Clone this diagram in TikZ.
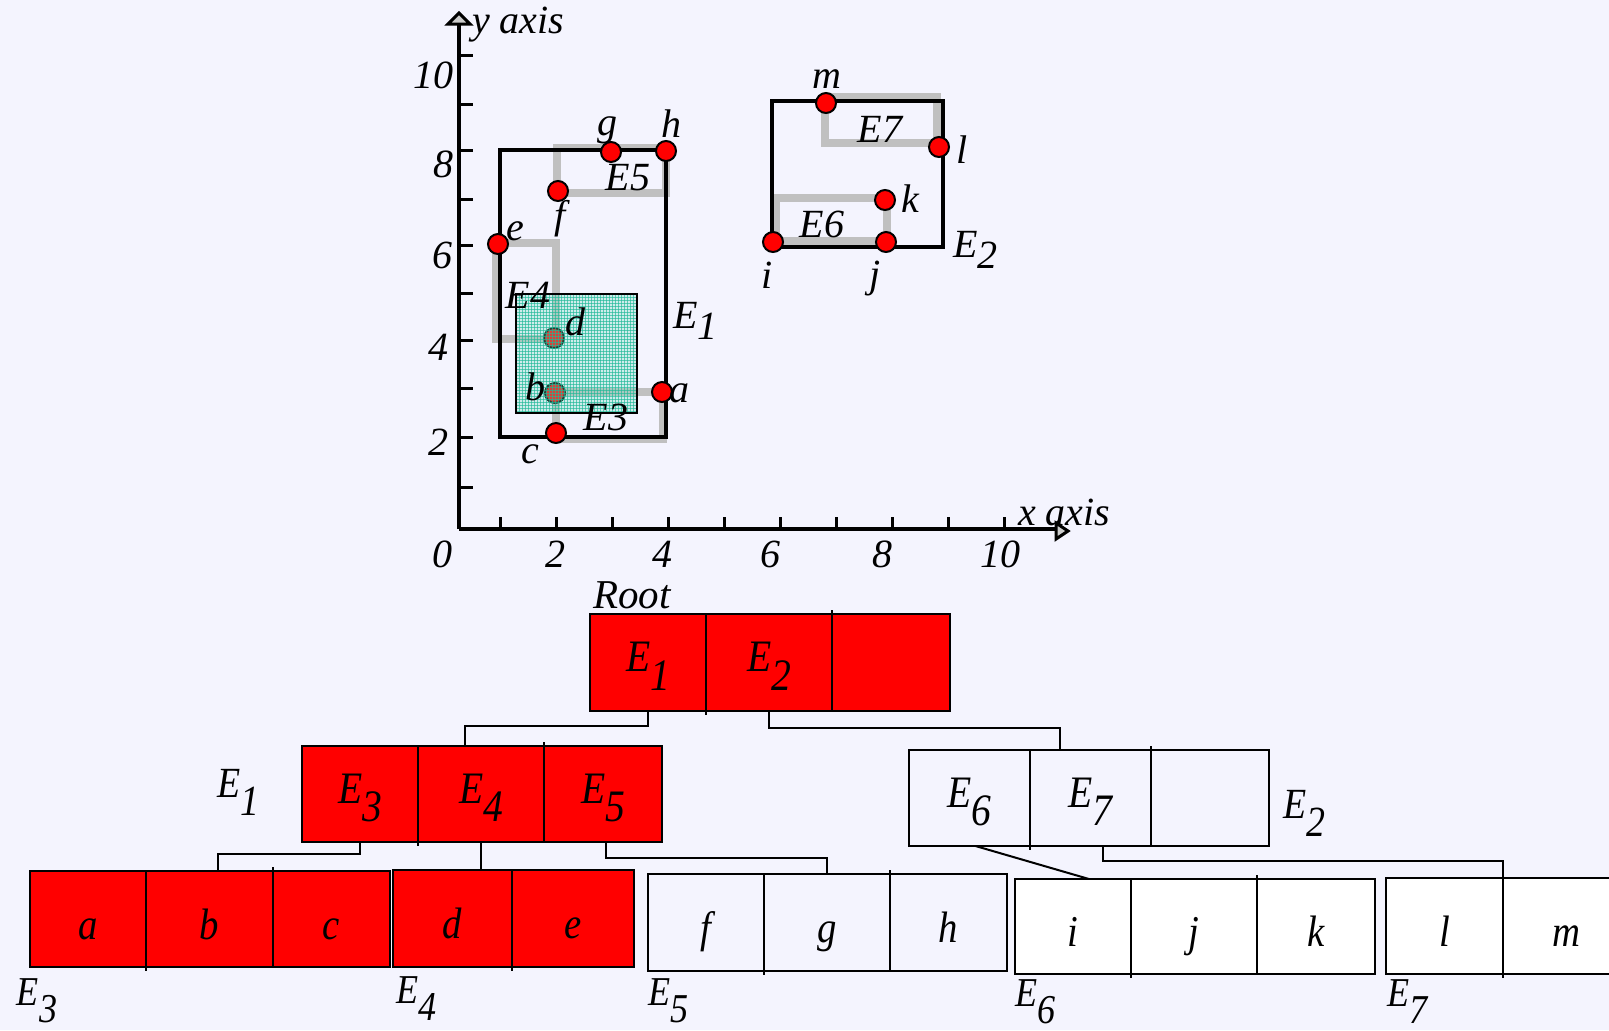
\documentclass[tikz,border=0pt]{standalone}
\usepackage{fontspec}
\setmainfont{Liberation Serif}[ItalicFont={Liberation Serif Italic}]
\newfontfamily\treefont[FakeStretch=0.88]{Liberation Serif}[ItalicFont={Liberation Serif Italic}]
\usetikzlibrary{arrows.meta}
\definecolor{bg}{RGB}{244,244,254}
\definecolor{mbr}{RGB}{192,192,192}
\definecolor{tealf}{RGB}{120,220,195}
\definecolor{tealg}{RGB}{30,185,150}
\newcommand\tsub[1]{\raisebox{-0.42em}{#1}}
\newcommand\psub[1]{\raisebox{-0.28em}{#1}}
\begin{document}
\begin{tikzpicture}[x=0.5pt,y=-0.5pt,
  every node/.style={inner sep=0pt, outer sep=0pt, font=\fontsize{20}{24}\selectfont\itshape},
  ptxt/.style={anchor=base, font=\fontsize{20}{24}\selectfont\itshape},
  dot/.style={circle, draw=black, line width=1pt, fill=red, minimum size=10pt},
  mbrline/.style={draw=mbr, line width=4pt},
  erect/.style={draw=black, line width=2pt},
  axisline/.style={line width=1.6pt},
  axistip/.style={draw=black, fill=gray!40, line width=1.5pt, line join=miter},
  tickline/.style={line width=1.5pt},
  cell/.style={draw=black, line width=0.8pt, rectangle, font=\treefont\fontsize{22.5}{26}\selectfont\itshape, text height=19pt, text depth=10pt},
  leaf/.style={draw=black, line width=0.8pt, rectangle, font=\treefont\fontsize{22}{26}\selectfont\itshape, text height=20pt, text depth=0pt},
  hot/.style={fill=red},
  wht/.style={fill=white},
  boxline/.style={draw=black, line width=1.4pt},
  divl/.style={line width=0.8pt},
  conn/.style={draw=black, line width=1pt},
  tlab/.style={anchor=base west, font=\treefont\fontsize{21.5}{25}\selectfont\itshape},
]
\useasboundingbox (0,0) rectangle (1609,1030);
\clip (0,0) rectangle (1609,1030);
\fill[bg] (0,0) rectangle (1609,1030);

% ---------- plot: MBR outlines (gray) ----------
\draw[mbrline] (556,392) rectangle (663,439);
\draw[mbrline] (496,243) rectangle (556,339);
\draw[mbrline] (557,148) rectangle (666,193);
\draw[mbrline] (776,198) rectangle (887,241);
\draw[mbrline] (825,97) rectangle (937,143);

% ---------- black rectangles E1, E2 ----------
\draw[erect] (500,150) rectangle (666,437);
\draw[erect] (772,101) rectangle (943,247);

% ---------- axes ----------
\coordinate (org) at (459,529);
\coordinate (ytip) at (459,13);
\coordinate (xtip) at (1068,531);
\draw[axisline] (org) -- (459,24);
\draw[axisline] (org) -- (1057,529);
\draw[axistip] (ytip) -- ++(-11,11) -- ++(22,0) -- cycle;
\draw[axistip] (xtip) -- ++(-12,-8) -- ++(0,16) -- cycle;
\foreach \yy in {55,104,150,199,245,293,340,388,437,487}
  \draw[tickline] (459,\yy) -- (473,\yy);
\foreach \xx in {500,556,612,668,724,780,836,892,948,1004}
  \draw[tickline] (\xx,529) -- (\xx,517);

% ---------- points ----------
\node[dot] (pa) at (662,392) {};
\node[dot] (pb) at (555,393) {};
\node[dot] (pc) at (556,433) {};
\node[dot] (pd) at (554,338) {};
\node[dot] (pe) at (498,244) {};
\node[dot] (pf) at (558,191) {};
\node[dot] (pg) at (611,152) {};
\node[dot] (ph) at (666,151) {};
\node[dot] (pi) at (773,242) {};
\node[dot] (pj) at (886,242) {};
\node[dot] (pk) at (885,200) {};
\node[dot] (pl) at (939,147) {};
\node[dot] (pm) at (826,103) {};

% ---------- hatched rectangle ----------
\fill[tealf, fill opacity=0.3] (516,294) rectangle (637,413);
\foreach \i in {0,...,40}
  \draw[tealg, line width=0.35pt, draw opacity=0.65] ({516+3*\i},294) -- ({516+3*\i},413);
\foreach \j in {0,...,39}
  \draw[tealg, line width=0.35pt, draw opacity=0.65] (516,{294+3*\j}) -- (637,{294+3*\j});
\draw[black, line width=1pt] (516,294) rectangle (637,413);

% ---------- plot labels ----------
\node[ptxt, anchor=base west] (tya) at (472,33) {y axis};
\node[ptxt, anchor=base west] (txa) at (1018,525) {x axis};
\node[ptxt] (tx0) at (442,567) {0};
\node[ptxt] (tx2) at (555,567) {2};
\node[ptxt] (tx4) at (662,567) {4};
\node[ptxt] (tx6) at (770,567) {6};
\node[ptxt] (tx8) at (882,567) {8};
\node[ptxt] (tx10) at (1000,567) {10};
\node[ptxt, anchor=base east] (ty10) at (453,88) {10};
\node[ptxt, anchor=base east] (ty8) at (453,177) {8};
\node[ptxt, anchor=base east] (ty6) at (452,268) {6};
\node[ptxt, anchor=base east] (ty4) at (448,360) {4};
\node[ptxt, anchor=base east] (ty2) at (448,455) {2};
\node[ptxt] (tg) at (607,135) {g};
\node[ptxt] (th) at (671,137) {h};
\node[ptxt] (tf) at (560,228) {f};
\node[ptxt] (te) at (515,240) {e};
\node[ptxt] (td) at (575,335) {d};
\node[ptxt] (tb) at (535,400) {b};
\node[ptxt] (ta) at (679,402) {a};
\node[ptxt] (tc) at (530,463) {c};
\node[ptxt] (tm) at (827,88) {m};
\node[ptxt] (tl) at (962,163) {l};
\node[ptxt] (tk) at (910,212) {k};
\node[ptxt] (ti) at (767,288) {i};
\node[ptxt] (tj) at (875,287) {j};
\node[ptxt] (tE5) at (628,190) {E5};
\node[ptxt] (tE4) at (528,308) {E4};
\node[ptxt] (tE3) at (606,430) {E3};
\node[ptxt] (tE7) at (880,142) {E7};
\node[ptxt] (tE6) at (822,237) {E6};
\node[ptxt, anchor=base west] (tE1) at (673,328) {E\psub{1}};
\node[ptxt, anchor=base west] (tE2) at (953,257) {E\psub{2}};

% ---------- tree: root ----------
\node[cell, hot, minimum width=58pt, minimum height=48.5pt] (r1) at (648,662.5) {E\tsub{1}};
\node[cell, hot, minimum width=63pt, minimum height=48.5pt] (r2) at (769,662.5) {E\tsub{2}};
\node[cell, hot, minimum width=59pt, minimum height=48.5pt] (r3) at (891,662.5) {};
\draw[boxline] (r1.north west) rectangle (r3.south east);
\draw[divl] (r1.south east) -- ++(0,4);
\draw[divl] (r2.north east) -- ++(0,-4);
\node[tlab, font=\fontsize{20.5}{24}\selectfont\itshape] (troot) at (593,608) {Root};

% ---------- tree: E1 node ----------
\node[cell, hot, minimum width=58pt, minimum height=48pt] (n11) at (360,794) {E\tsub{3}};
\node[cell, hot, minimum width=63pt, minimum height=48pt] (n12) at (481,794) {E\tsub{4}};
\node[cell, hot, minimum width=59pt, minimum height=48pt] (n13) at (603,794) {E\tsub{5}};
\draw[boxline] (n11.north west) rectangle (n13.south east);
\draw[divl] (n11.south east) -- ++(0,4);
\draw[divl] (n12.north east) -- ++(0,-4);
\node[tlab] (tn1) at (217,797) {E\tsub{1}};

% ---------- tree: E2 node ----------
\node[cell, minimum width=60.5pt, minimum height=48pt] (n21) at (969.5,798) {E\tsub{6}};
\node[cell, minimum width=60.5pt, minimum height=48pt] (n22) at (1090.5,798) {E\tsub{7}};
\node[cell, minimum width=59pt, minimum height=48pt] (n23) at (1210,798) {};
\draw[boxline] (n21.north west) rectangle (n23.south east);
\draw[divl] (n21.south east) -- ++(0,4);
\draw[divl] (n22.north east) -- ++(0,-4);
\node[tlab] (tn2) at (1283,818) {E\tsub{2}};

% ---------- tree: leaves ----------
\node[leaf, hot, minimum width=58pt, minimum height=48pt] (la) at (88,919) {a};
\node[leaf, hot, minimum width=63.5pt, minimum height=48pt] (lb) at (209.5,919) {b};
\node[leaf, hot, minimum width=58.5pt, minimum height=48pt] (lc) at (331.5,919) {c};
\draw[boxline] (la.north west) rectangle (lc.south east);
\draw[divl] (la.south east) -- ++(0,4);
\draw[divl] (lb.north east) -- ++(0,-4);

\node[leaf, hot, minimum width=59.5pt, minimum height=48.5pt] (ld) at (452.5,918.5) {d};
\node[leaf, hot, minimum width=61pt, minimum height=48.5pt] (le) at (573,918.5) {e};
\draw[boxline] (ld.north west) rectangle (le.south east);
\draw[divl] (ld.south east) -- ++(0,4);

\node[leaf, minimum width=58pt, minimum height=48.5pt] (lf) at (706,922.5) {f};
\node[leaf, minimum width=63pt, minimum height=48.5pt] (lg) at (827,922.5) {g};
\node[leaf, minimum width=58.5pt, minimum height=48.5pt] (lh) at (948.5,922.5) {h};
\draw[boxline] (lf.north west) rectangle (lh.south east);
\draw[divl] (lf.south east) -- ++(0,4);
\draw[divl] (lg.north east) -- ++(0,-4);

\node[leaf, wht, minimum width=58pt, minimum height=47.5pt] (li) at (1073,926.5) {i};
\node[leaf, wht, minimum width=63pt, minimum height=47.5pt] (lj) at (1194,926.5) {j};
\node[leaf, wht, minimum width=59pt, minimum height=47.5pt] (lk) at (1316,926.5) {k};
\draw[boxline] (li.north west) rectangle (lk.south east);
\draw[divl] (li.south east) -- ++(0,4);
\draw[divl] (lj.north east) -- ++(0,-4);

\node[leaf, wht, minimum width=58.5pt, minimum height=48pt] (ll) at (1444.5,926) {l};
\node[leaf, wht, minimum width=63.5pt, minimum height=48pt] (lm) at (1566.5,926) {m};
\draw[boxline] (ll.north west) rectangle (lm.south east);
\draw[divl] (ll.south east) -- ++(0,4);

\node[tlab, font=\treefont\fontsize{20.5}{24}\selectfont\itshape] (tl3) at (17,1005) {E\tsub{3}};
\node[tlab, font=\treefont\fontsize{20.5}{24}\selectfont\itshape] (tl4) at (396,1003) {E\tsub{4}};
\node[tlab, font=\treefont\fontsize{20.5}{24}\selectfont\itshape] (tl5) at (648,1005) {E\tsub{5}};
\node[tlab, font=\treefont\fontsize{20.5}{24}\selectfont\itshape] (tl6) at (1015,1006) {E\tsub{6}};
\node[tlab, font=\treefont\fontsize{20.5}{24}\selectfont\itshape] (tl7) at (1387,1006) {E\tsub{7}};

% ---------- connectors ----------
\coordinate (X465) at (465,0);
\coordinate (X1060) at (1060,0);
\coordinate (X218) at (218,0);
\coordinate (X1089) at (1089,0);
\draw[conn] (r1.south) -- ++(0,15) -| (n12.north -| X465);
\draw[conn] (r2.south) -- ++(0,17) -| (n22.north -| X1060);
\draw[conn] (n11.south) -- ++(0,12) -| (lb.north -| X218);
\draw[conn] (n12.south) -- (n12.south |- ld.north);
\draw[conn] ([xshift=1.5pt]n13.south) -- ++(0,16) -| (lg.north);
\draw[conn] ([xshift=3pt]n21.south) -- (li.north -| X1089);
\draw[conn] ([xshift=6pt]n22.south) -- ++(0,15) -| (ll.north east);
\end{tikzpicture}
\end{document}
